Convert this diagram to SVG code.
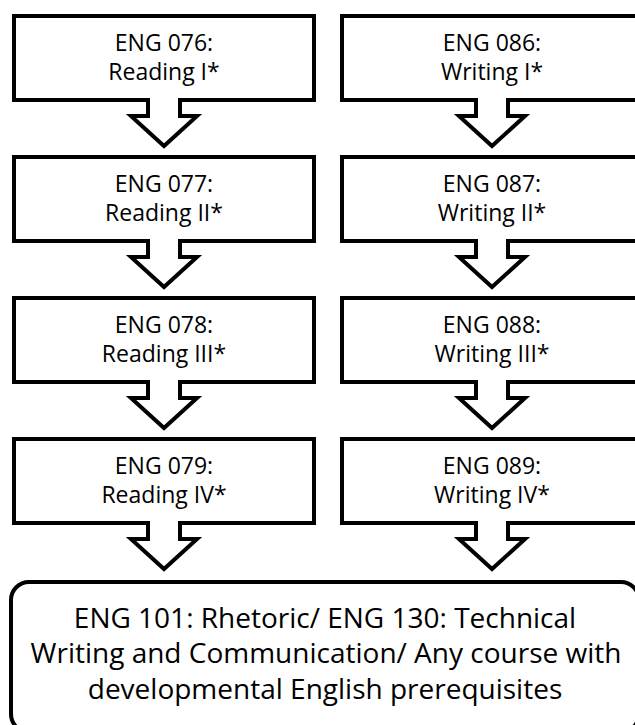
<svg xmlns="http://www.w3.org/2000/svg" width="635" height="725" viewBox="0 0 635 725">
<style>
.box{fill:#fff;stroke:#000;stroke-width:4;stroke-linejoin:miter}
.arr{fill:#fff;stroke:#000;stroke-width:4;stroke-linejoin:miter}
.t{font-family:"Open Sans","Noto Sans",sans-serif;font-size:23px;fill:#000;text-anchor:middle}
.tb{font-family:"Open Sans","Noto Sans",sans-serif;font-size:28px;fill:#000;text-anchor:middle}
</style>
<rect width="635" height="725" fill="#fff"/>
<g id="eng076"><rect class="box" x="14" y="16" width="300" height="84"/><text class="t" x="164" y="51">ENG 076:</text><text class="t" x="164" y="80">Reading I*</text></g>
<g id="eng077"><rect class="box" x="14" y="157" width="300" height="84"/><text class="t" x="164" y="192">ENG 077:</text><text class="t" x="164" y="221">Reading II*</text></g>
<g id="eng078"><rect class="box" x="14" y="298" width="300" height="84"/><text class="t" x="164" y="333">ENG 078:</text><text class="t" x="164" y="362">Reading III*</text></g>
<g id="eng079"><rect class="box" x="14" y="439" width="300" height="84"/><text class="t" x="164" y="474">ENG 079:</text><text class="t" x="164" y="503">Reading IV*</text></g>
<g id="eng086"><rect class="box" x="342" y="16" width="300" height="84"/><text class="t" x="492" y="51">ENG 086:</text><text class="t" x="492" y="80">Writing I*</text></g>
<g id="eng087"><rect class="box" x="342" y="157" width="300" height="84"/><text class="t" x="492" y="192">ENG 087:</text><text class="t" x="492" y="221">Writing II*</text></g>
<g id="eng088"><rect class="box" x="342" y="298" width="300" height="84"/><text class="t" x="492" y="333">ENG 088:</text><text class="t" x="492" y="362">Writing III*</text></g>
<g id="eng089"><rect class="box" x="342" y="439" width="300" height="84"/><text class="t" x="492" y="474">ENG 089:</text><text class="t" x="492" y="503">Writing IV*</text></g>
<g id="eng101"><rect class="box" x="11" y="582" width="628" height="150" rx="18" ry="18"/>
<text class="tb" x="325" y="628">ENG 101: Rhetoric/ ENG 130: Technical</text>
<text class="tb" x="326" y="663">Writing and Communication/ Any course with</text>
<text class="tb" x="325" y="699">developmental English prerequisites</text></g>
<g id="connectors">
<path class="arr" d="M148,98 V116 H131 L164,146 L197,116 H180 V98"/>
<path class="arr" d="M148,239 V257 H131 L164,287 L197,257 H180 V239"/>
<path class="arr" d="M148,380 V398 H131 L164,428 L197,398 H180 V380"/>
<path class="arr" d="M148,521 V539 H131 L164,569 L197,539 H180 V521"/>
<path class="arr" d="M476,98 V116 H459 L492,146 L525,116 H508 V98"/>
<path class="arr" d="M476,239 V257 H459 L492,287 L525,257 H508 V239"/>
<path class="arr" d="M476,380 V398 H459 L492,428 L525,398 H508 V380"/>
<path class="arr" d="M476,521 V539 H459 L492,569 L525,539 H508 V521"/>
</g>
</svg>
